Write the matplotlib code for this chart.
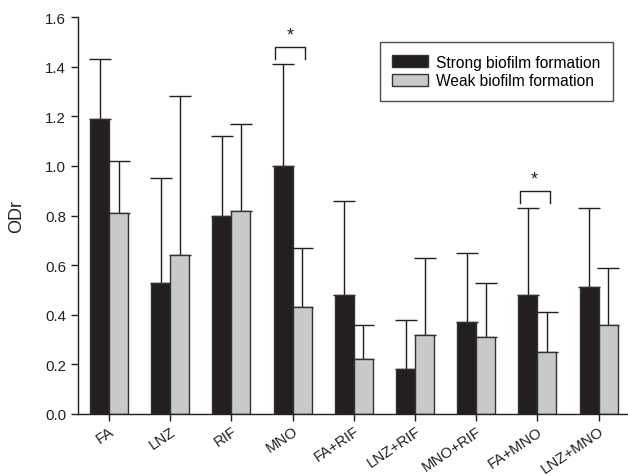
import matplotlib.pyplot as plt
import numpy as np

plt.rcParams['font.family'] = ['Liberation Sans', 'DejaVu Sans']

# Data
treatments = ['FA', 'LNZ', 'RIF', 'MNO', 'FA+RIF', 'LNZ+RIF', 'MNO+RIF', 'FA+MNO', 'LNZ+MNO']
strong = [1.19, 0.53, 0.80, 1.00, 0.48, 0.18, 0.37, 0.48, 0.51]
weak = [0.81, 0.64, 0.82, 0.43, 0.22, 0.32, 0.31, 0.25, 0.36]
strong_err = [0.24, 0.42, 0.32, 0.41, 0.38, 0.20, 0.28, 0.35, 0.32]
weak_err = [0.21, 0.64, 0.35, 0.24, 0.14, 0.31, 0.22, 0.16, 0.23]
significant = ['MNO', 'FA+MNO']

dark = '#231f20'
light = '#c8c9cb'
edge = '#333333'

fig = plt.figure(figsize=(6.28, 4.77), dpi=100)
ax = fig.add_axes([0.124, 0.130, 0.876, 0.832])

x = np.arange(len(treatments))
w = 0.31

ax.bar(x - w / 2, strong, w, color=dark, edgecolor=edge, linewidth=1,
       label='Strong biofilm formation', zorder=2)
ax.bar(x + w / 2, weak, w, color=light, edgecolor=edge, linewidth=1,
       label='Weak biofilm formation', zorder=2)

# upper-only error bars
ax.errorbar(x - w / 2, strong, yerr=[np.zeros(len(strong)), strong_err], fmt='none',
            ecolor=dark, elinewidth=1, capsize=8, capthick=1, zorder=1)
ax.errorbar(x + w / 2, weak, yerr=[np.zeros(len(weak)), weak_err], fmt='none',
            ecolor=dark, elinewidth=1, capsize=8, capthick=1, zorder=1)

# significance brackets
for name in significant:
    i = treatments.index(name)
    top = max(strong[i] + strong_err[i], weak[i] + weak_err[i])
    x0, x1 = i - 0.29, i + 0.20
    y0, y1 = top + 0.02, top + 0.07
    ax.plot([x0, x0, x1, x1], [y0, y1, y1, y0], color=dark, linewidth=1)
    ax.text((x0 + x1) / 2, y1 + 0.012, '*', ha='center', va='bottom', fontsize=13, color=dark)

ax.set_xlim(-0.51, 8.48)
ax.set_ylim(0, 1.6)
ax.set_yticks(np.arange(0, 1.61, 0.2))
ax.set_yticklabels([f'{v:.1f}' for v in np.arange(0, 1.61, 0.2)])
ax.set_xticks(x)
ax.set_xticklabels(treatments, rotation=34, ha='right', rotation_mode='anchor')
ax.tick_params(axis='both', labelsize=10.8, colors=dark, length=5, width=1)
ax.tick_params(axis='x', pad=2)
ax.set_ylabel('ODr', fontsize=13, color=dark)
ax.yaxis.set_label_coords(-0.096, 0.5)

for s in ['top', 'right']:
    ax.spines[s].set_visible(False)
for s in ['left', 'bottom']:
    ax.spines[s].set_color(dark)
    ax.spines[s].set_linewidth(1)

leg = ax.legend(loc='upper right', bbox_to_anchor=(0.973, 0.937), borderaxespad=0,
                fontsize=11.2, frameon=True, fancybox=False, edgecolor=dark,
                handlelength=2.3, handleheight=0.75, borderpad=0.8, labelspacing=0.25,
                handletextpad=0.55)
leg.get_frame().set_linewidth(1)

fig.savefig('out.png', dpi=100)
